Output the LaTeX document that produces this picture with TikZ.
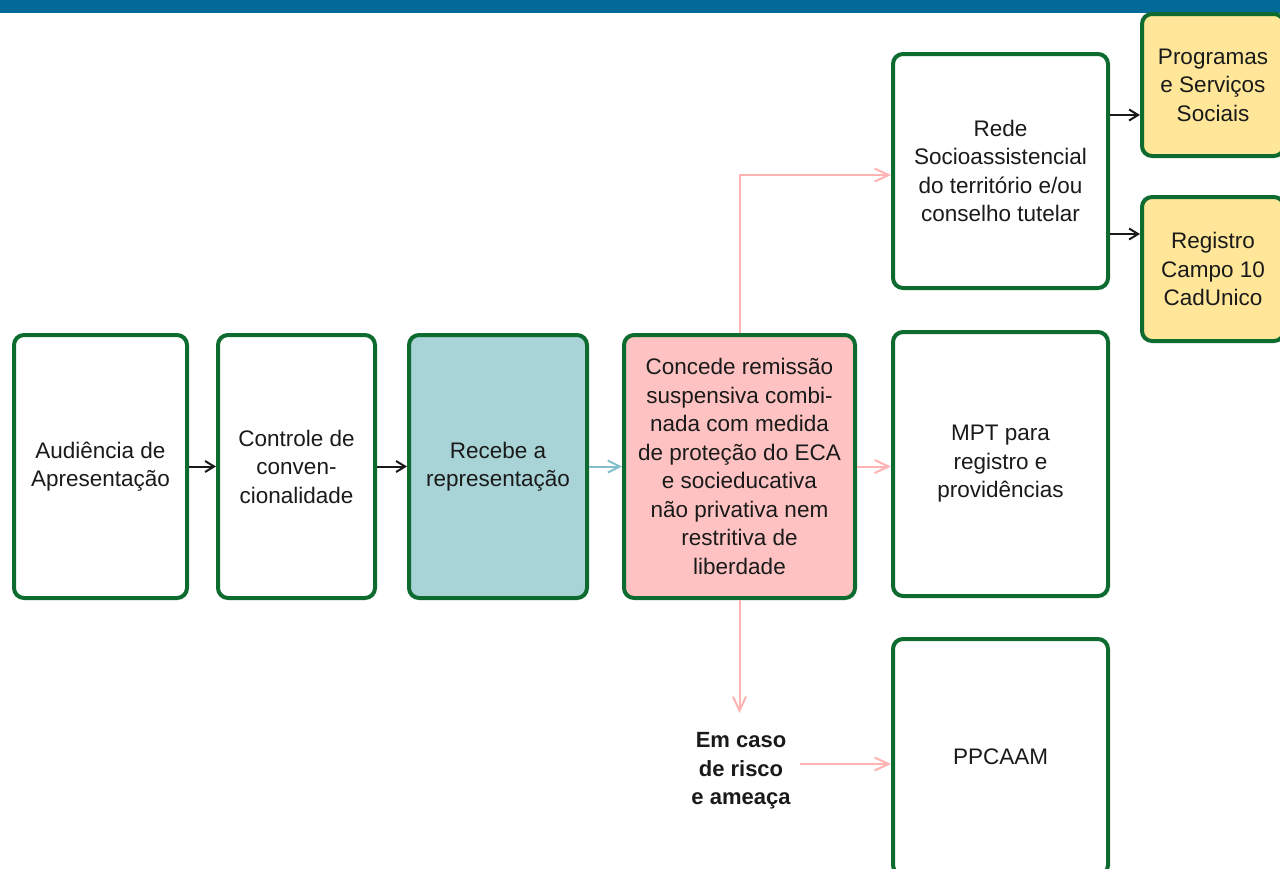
\documentclass[tikz,border=0pt]{standalone}
\usepackage{fontspec}
\setmainfont{Liberation Sans}
\usetikzlibrary{arrows.meta}
\definecolor{barblue}{HTML}{036A98}
\definecolor{boxgreen}{HTML}{0E6B2F}
\definecolor{tealfill}{HTML}{A8D3D7}
\definecolor{pinkfill}{HTML}{FFC2C2}
\definecolor{yellowfill}{HTML}{FFE699}
\definecolor{pinkline}{HTML}{FFB3B3}
\definecolor{tealline}{HTML}{82BFCB}
\definecolor{ink}{HTML}{1A1A1A}
\tikzset{
  box/.style={draw=boxgreen, line width=4pt, rounded corners=10pt, fill=white,
    align=center, text=ink, inner sep=0pt,
    font=\fontsize{22.5}{28.5}\selectfont},
  blk/.style={draw=ink, line width=2pt, -{Straight Barb[length=9pt,width=11pt,line width=2pt]}},
  pinkarr/.style={draw=pinkline, line width=2pt, -{Straight Barb[length=14pt,width=13pt,line width=2pt]}},
  tealarr/.style={draw=tealline, line width=2pt, -{Straight Barb[length=12pt,width=12pt,line width=2pt]}},
}
\begin{document}
\begin{tikzpicture}[x=1pt,y=-1pt]
\useasboundingbox (0,0) rectangle (1280,868);
\clip (0,0) rectangle (1280,868);
\fill[white] (0,0) rectangle (1280,868);
% header strip
\fill[barblue] (0,0) rectangle (1280,12.5);

% main row
\node[box, minimum width=173pt, minimum height=263pt] (aud) at (100.5,466.5) {Audiência de\\Apresentação};
\node[box, minimum width=157pt, minimum height=263pt] (ctrl) at (296.5,466.5) {Controle de\\conven-\\cionalidade};
\node[box, fill=tealfill, minimum width=178pt, minimum height=263pt] (rec) at (498,466.5) {Recebe a\\representação};
\node[box, fill=pinkfill, minimum width=231pt, minimum height=263pt] (conc) at (739.5,466.5) {Concede remissão\\suspensiva combi-\\nada com medida\\de proteção do ECA\\e socieducativa\\não privativa nem\\restritiva de\\liberdade};

% right column
\node[box, minimum width=215pt, minimum height=234pt] (rede) at (1000.5,171) {Rede\\Socioassistencial\\do território e/ou\\conselho tutelar};
\node[box, minimum width=215pt, minimum height=264pt] (mpt) at (1000.5,464) {MPT para\\registro e\\providências};
\node[box, minimum width=215pt, minimum height=236pt] (ppc) at (1000.5,757) {PPCAAM};

% far right
\node[box, fill=yellowfill, minimum width=142pt, minimum height=142pt] (prog) at (1213,85) {Programas\\e Serviços\\Sociais};
\node[box, fill=yellowfill, minimum width=142pt, minimum height=144pt] (reg) at (1213,269) {Registro\\Campo 10\\CadUnico};

% label under the pink box
\node[align=center, text=ink, font=\fontsize{22}{28.5}\selectfont\bfseries, inner sep=2pt] (risk) at (741,771) {Em caso\\de risco\\e ameaça};

% connectors
\draw[blk] (aud.east) -- (ctrl.west);
\draw[blk] (ctrl.east) -- (rec.west);
\draw[tealarr] (rec.east) -- (conc.west);
\draw[pinkarr] (conc.east) -- (mpt.west |- conc.east);
\draw[pinkarr] (conc.north) -- (conc.north |- 0,175) -- (rede.west |- 0,175);
\draw[pinkarr] (conc.south) -- (conc.south |- 0,713);
\draw[pinkarr] (800,764) -- (ppc.west |- 0,764);
\draw[blk] (rede.east |- 0,115) -- (prog.west |- 0,115);
\draw[blk] (rede.east |- 0,234) -- (reg.west |- 0,234);
\end{tikzpicture}
\end{document}
